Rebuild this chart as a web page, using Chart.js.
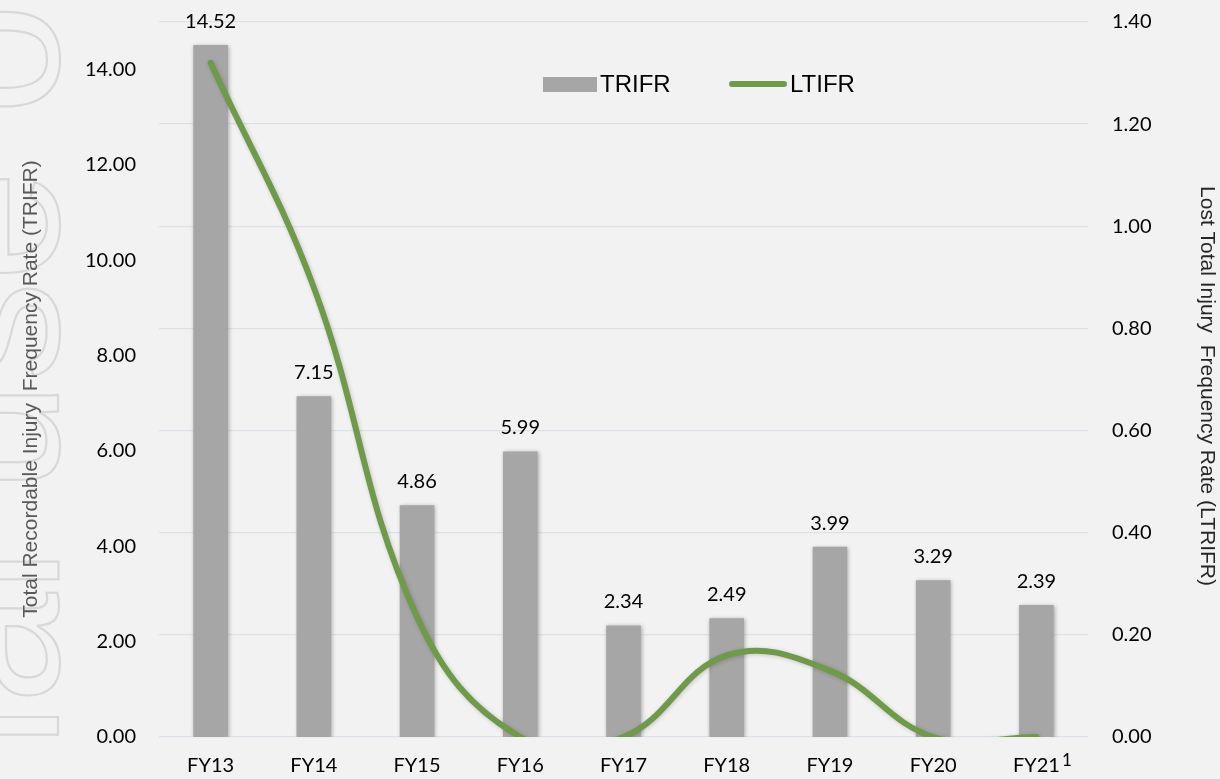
<!DOCTYPE html>
<html><head><meta charset="utf-8">
<script src="https://cdn.jsdelivr.net/npm/chart.js@4"></script>
<style>html,body{margin:0;padding:0;background:#f2f2f2;overflow:hidden}canvas{display:block}</style>
</head><body>
<canvas id="c" width="1220" height="779"></canvas>
<script>
const categories = ['FY13','FY14','FY15','FY16','FY17','FY18','FY19','FY20','FY21'];
const footnoteMarks = ['','','','','','','','','1'];
const trifrValues = [14.52,7.15,4.86,5.99,2.34,2.49,3.99,3.29,2.77];
const trifrLabels = ['14.52','7.15','4.86','5.99','2.34','2.49','3.99','3.29','2.39'];
const ltifrValues = [1.32,0.88,0.235,0,0,0.16,0.13,0,0];
const leftTicks = [0,2,4,6,8,10,12,14];
const rightTicks = [0,0.2,0.4,0.6,0.8,1.0,1.2,1.4];
const leftTitle = 'Total Recordable Injury  Frequency Rate (TRIFR)';
const rightTitle = 'Lost Total Injury  Frequency Rate (LTRIFR)';
const watermark = 'For personal use only';

const GREEN = '#6f9a4a';
const GREY = '#a6a6a6';
const tickFont = {family:'Lato', size:20};

const deco = {
  id:'deco',
  beforeDraw(chart){
    const ctx = chart.ctx;
    ctx.save();
    ctx.fillStyle = '#f2f2f2';
    ctx.fillRect(0,0,chart.width,chart.height);
    ctx.translate(58,1671);
    ctx.rotate(-Math.PI/2);
    ctx.font = '200px "Liberation Sans"';
    ctx.textBaseline = 'alphabetic';
    ctx.strokeStyle = '#d8d8d8';
    ctx.lineWidth = 2.2;
    ctx.strokeText(watermark,0,0);
    ctx.restore();
  },
  beforeDatasetDraw(chart,args){
    const ctx = chart.ctx;
    ctx.save();
    ctx.shadowColor = args.index===0 ? 'rgba(0,0,0,0.30)' : 'rgba(0,0,0,0.18)';
    ctx.shadowBlur = 4;
    ctx.shadowOffsetX = 1;
    ctx.shadowOffsetY = 1;
  },
  afterDatasetDraw(chart){
    chart.ctx.restore();
  },
  afterDraw(chart){
    const ctx = chart.ctx;
    ctx.save();
    // data labels
    const meta = chart.getDatasetMeta(0);
    ctx.font = '20px Lato';
    ctx.fillStyle = '#000';
    ctx.textAlign = 'center';
    ctx.textBaseline = 'alphabetic';
    meta.data.forEach((bar,i)=>{ ctx.fillText(trifrLabels[i], bar.x, bar.y-17); });
    // footnote marks on category labels
    const xs = chart.scales.x;
    footnoteMarks.forEach((m,i)=>{
      if(!m) return;
      const px = xs.getPixelForValue(i);
      ctx.font = '20px Lato';
      const w = ctx.measureText(categories[i]).width;
      ctx.font = '17px Lato';
      ctx.textAlign = 'left';
      ctx.fillText(m, px + w/2 + 2, 766);
    });
    // axis titles
    ctx.font = '21px "Liberation Sans"';
    ctx.textAlign = 'center';
    ctx.textBaseline = 'middle';
    ctx.save();
    ctx.translate(31,389);
    ctx.rotate(-Math.PI/2);
    ctx.fillStyle = '#595959';
    ctx.fillText(leftTitle,0,0);
    ctx.restore();
    ctx.save();
    ctx.translate(1207,386);
    ctx.rotate(Math.PI/2);
    ctx.fillStyle = '#262626';
    ctx.fillText(rightTitle,0,0);
    ctx.restore();
    // legend
    const ds = chart.data.datasets;
    ctx.font = '24px "Liberation Sans"';
    ctx.textAlign = 'left';
    ctx.textBaseline = 'alphabetic';
    ctx.fillStyle = GREY;
    ctx.fillRect(543,77,54,15);
    ctx.fillStyle = '#000';
    ctx.fillText(ds[0].label, 600, 92);
    ctx.strokeStyle = GREEN;
    ctx.lineWidth = 6;
    ctx.lineCap = 'round';
    ctx.beginPath(); ctx.moveTo(732,84); ctx.lineTo(784,84); ctx.stroke();
    ctx.fillText(ds[1].label, 790, 92);
    ctx.restore();
  }
};

new Chart(document.getElementById('c'), {
  data:{
    labels:categories,
    datasets:[
      {type:'bar', label:'TRIFR', data:trifrValues, yAxisID:'y', backgroundColor:GREY,
       barPercentage:0.335, categoryPercentage:1, order:1},
      {type:'line', label:'LTIFR', data:ltifrValues, yAxisID:'y1', borderColor:GREEN,
       borderWidth:6, pointRadius:0, pointHoverRadius:0, tension:0.4, capBezierPoints:false,
       clip:0, borderCapStyle:'round', borderJoinStyle:'round', fill:false, order:0}
    ]
  },
  options:{
    responsive:false, animation:false, devicePixelRatio:1,
    layout:{padding:{top:22,left:0,right:0,bottom:0}},
    plugins:{legend:{display:false}, tooltip:{enabled:false}},
    scales:{
      x:{grid:{display:false, drawTicks:false}, border:{display:false},
         ticks:{font:tickFont, color:'#000', padding:17, maxRotation:0, autoSkip:false},
         afterFit(s){ s.height = 42; s.paddingLeft = 0; s.paddingRight = 0; }},
      y:{position:'left', min:0, max:15, grid:{display:false, drawTicks:false}, border:{display:false},
         ticks:{font:tickFont, color:'#000', padding:23, callback:v=>Number(v).toFixed(2)},
         afterBuildTicks(s){ s.ticks = leftTicks.map(v=>({value:v})); },
         afterFit(s){ s.width = 159; s.paddingTop = 0; s.paddingBottom = 0; }},
      y1:{position:'right', min:0, max:1.4, grid:{color:'#dce2ea', lineWidth:1.3, drawTicks:false}, border:{display:false},
         ticks:{font:tickFont, color:'#000', padding:24, callback:v=>Number(v).toFixed(2)},
         afterBuildTicks(s){ s.ticks = rightTicks.map(v=>({value:v})); },
         afterFit(s){ s.width = 132; s.paddingTop = 0; s.paddingBottom = 0; }}
    }
  },
  plugins:[deco]
});
</script>
</body></html>
